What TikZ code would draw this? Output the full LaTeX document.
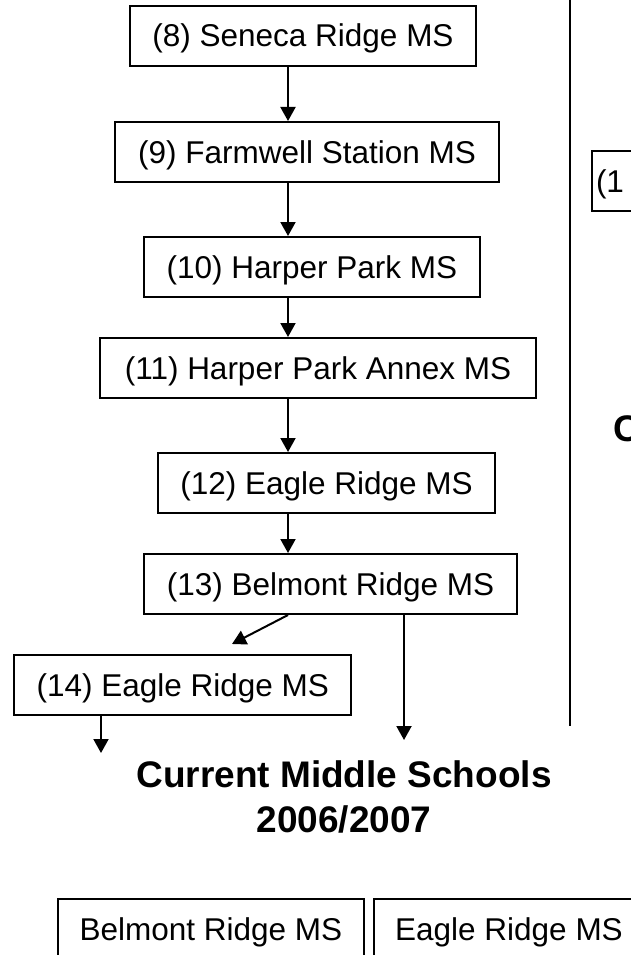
\documentclass[tikz,border=0pt]{standalone}
\usepackage{fontspec}
\setmainfont{Liberation Sans}
\usepackage{tikz}
\usetikzlibrary{positioning,arrows.meta}
\definecolor{ink}{HTML}{000000}
\tikzset{
  school/.style = {draw=ink, line width=2pt, minimum height=60pt, inner sep=4pt,
                   text height=22pt, text depth=0pt,
                   font=\fontsize{31.5}{38}\selectfont},
  arr/.style    = {-{Triangle[length=14pt,width=15pt]}, line width=2pt, draw=ink},
  ttl/.style    = {align=center, inner sep=0pt,
                   font=\fontsize{37}{45}\selectfont\bfseries},
  sep/.style    = {line width=2pt, draw=ink},
}

\begin{document}
\begin{tikzpicture}[x=1pt, y=-1pt]
  \useasboundingbox (0,0) rectangle (631,955);
  \clip (0,0) rectangle (631,955);

  % --- chain of middle schools ---
  \node[school, minimum width=346pt] (sr8)  at (303,36)    {(8) Seneca Ridge MS};
  \node[school, minimum width=384pt] (fs9)  at (307,152)   {(9) Farmwell Station MS};
  \node[school, minimum width=336pt] (hp10) at (312,267)   {(10) Harper Park MS};
  \node[school, minimum width=436pt] (ha11) at (318,368)   {(11) Harper Park Annex MS};
  \node[school, minimum width=337pt] (er12) at (326.5,483) {(12) Eagle Ridge MS};
  \node[school, minimum width=373pt] (br13) at (330.5,584) {(13) Belmont Ridge MS};
  \node[school, minimum width=337pt] (er14) at (182.75,685) {(14) Eagle Ridge MS};

  \coordinate (col)  at (288,0);
  \coordinate (rcol) at (404,0);
  \coordinate (lcol) at (101,0);
  \coordinate (to14) at (232,644);
  \coordinate (end13) at (404,740);
  \coordinate (end14) at (101,753);

  \draw[arr] (sr8.south -| col)  -- (fs9.north -| col);
  \draw[arr] (fs9.south -| col)  -- (hp10.north -| col);
  \draw[arr] (hp10.south -| col) -- (ha11.north -| col);
  \draw[arr] (ha11.south -| col) -- (er12.north -| col);
  \draw[arr] (er12.south -| col) -- (br13.north -| col);
  \draw[arr] (br13.south -| col) -- (to14);
  \draw[arr] (br13.south -| rcol) -- (end13);
  \draw[arr] (er14.south -| lcol) -- (end14);

  % --- current schools ---
  \node[ttl] (cur) at (344,796.5) {Current Middle Schools\\2006/2007};
  \node[school, minimum width=306pt] (brnow) at (211,929) {Belmont Ridge MS};
  \node[school, minimum width=270pt] (ernow) at (509,929) {Eagle Ridge MS};

  % --- next column ---
  \draw[sep] (570,-5) -- (570,726);
  \node[school, anchor=west, text width=112pt, align=left] (nx1) at (591,181) {(1};
  \node[ttl, anchor=west] (nxc) at (613.5,429) {C};
\end{tikzpicture}
\end{document}
